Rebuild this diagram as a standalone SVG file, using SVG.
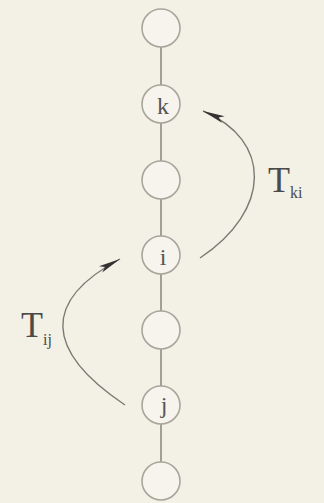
<svg xmlns="http://www.w3.org/2000/svg" width="324" height="503" viewBox="0 0 324 503">
<style>
.n circle{fill:#f6f4ec;stroke:#a8a59c;stroke-width:1.6}
.lbl{font-family:"Liberation Serif",serif;font-size:24px;fill:#555;text-anchor:middle}
.big{font-family:"Liberation Serif",serif;font-size:36px;fill:#4a4a4a}
.sub{font-size:16px}
.arc{fill:none;stroke:#7a7a76;stroke-width:1.4}
.spine{stroke:#8e8b84;stroke-width:1.6}
</style>
<defs>
<marker id="ah" markerUnits="userSpaceOnUse" markerWidth="24" markerHeight="10" refX="22" refY="5" orient="auto">
<path d="M0,1.5 L22,5 L0,8.5 L5,5 Z" fill="#333"/>
</marker>
</defs>
<rect width="324" height="503" fill="#f3f0e5"/>
<g id="connectors">
<line class="spine" x1="161" y1="28" x2="161" y2="481"/>
<path class="arc" d="M200,258 C272,210 272,140 203,111" marker-end="url(#ah)"/>
<path class="arc" d="M125,405 C43,350 43,300 120,259" marker-end="url(#ah)"/>
</g>
<g id="n1" class="n"><circle cx="161" cy="28" r="19"/></g>
<g id="nk" class="n"><circle cx="161" cy="104" r="19"/><text class="lbl" x="163" y="114">k</text></g>
<g id="n3" class="n"><circle cx="161" cy="180" r="19"/></g>
<g id="ni" class="n"><circle cx="161" cy="255" r="19"/><text class="lbl" x="163" y="265">i</text></g>
<g id="n5" class="n"><circle cx="161" cy="330" r="19"/></g>
<g id="nj" class="n"><circle cx="161" cy="405" r="19"/><text class="lbl" x="164" y="413">j</text></g>
<g id="n7" class="n"><circle cx="161" cy="481" r="19"/></g>
<text class="big" x="268" y="192">T<tspan class="sub" dy="6">ki</tspan></text>
<text class="big" x="21" y="337">T<tspan class="sub" dy="8">ij</tspan></text>
</svg>
